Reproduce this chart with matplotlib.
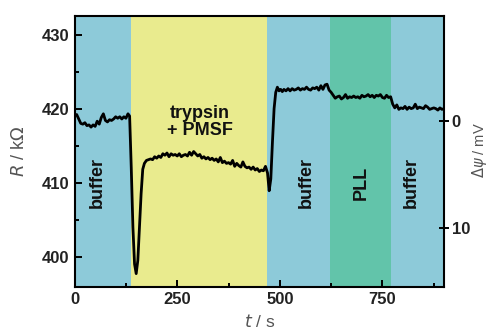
import matplotlib
matplotlib.use("Agg")
import matplotlib.pyplot as plt
from matplotlib.ticker import MultipleLocator

plt.rcParams['font.family'] = ['Liberation Sans', 'DejaVu Sans']

# Phases (start, end, label, colour)
phase_bounds = [0, 137, 468, 623, 772, 900]
phase_labels = ["buffer", "trypsin\n+ PMSF", "buffer", "PLL", "buffer"]
phase_colors = ["#8dcad9", "#e9eb8e", "#8dcad9", "#62c4aa", "#8dcad9"]

t = [0, 5, 10, 15, 20, 25, 30, 35, 40, 45, 50, 55, 60, 65, 70, 75, 80, 85, 90, 95,
     100, 105, 110, 115, 120, 125, 130, 134,
     138, 142, 146, 150, 154, 158, 162, 166, 170, 175,
     180, 185, 190, 195, 200, 205, 210, 215, 220, 225, 230, 235, 240, 245, 250, 255,
     260, 265, 270, 275, 280, 285, 290, 295, 300, 305, 310, 315, 320, 325, 330, 335,
     340, 345, 350, 355, 360, 365, 370, 375, 380, 385, 390, 395, 400, 405, 410, 415,
     420, 425, 430, 435, 440, 445, 450, 455, 460, 465, 470, 474, 478, 482, 486, 490,
     494, 498, 502, 506, 510, 515, 520, 525, 530, 535, 540, 545, 550, 555, 560, 565,
     570, 575, 580, 585, 590, 595, 600, 605, 610, 615, 620, 625, 630, 635, 640, 645,
     650, 655, 660, 665, 670, 675, 680, 685, 690, 695, 700, 705, 710, 715, 720, 725,
     730, 735, 740, 745, 750, 755, 760, 765, 770, 775, 780, 785, 790, 795, 800, 805,
     810, 815, 820, 825, 830, 835, 840, 845, 850, 855, 860, 865, 870, 875, 880, 885,
     890, 895, 900]
R = [419.0, 419.2, 418.6, 418.0, 417.9, 418.1, 417.7, 417.8, 417.5, 417.8, 417.6, 418.3,
     417.9, 418.8, 419.3, 418.4, 418.2, 418.5, 418.4, 418.6,
     418.9, 418.7, 418.9, 418.6, 418.9, 418.7, 419.3, 419.0,
     412.0, 404.0, 399.0, 397.7, 399.5, 404.0, 408.5, 411.8, 412.6, 413.0,
     413.1, 413.2, 413.1, 413.5, 413.3, 413.6, 413.4, 413.9, 413.7, 414.0, 413.5, 413.9,
     413.7, 413.8, 413.6, 413.9,
     413.5, 413.7, 413.8, 413.6, 414.1, 413.7, 414.2, 413.9, 413.6, 413.8, 413.3, 413.5,
     413.2, 413.4, 413.1, 413.3,
     413.0, 413.2, 412.8, 413.4, 412.7, 412.9, 412.6, 412.7, 412.5, 413.0, 412.2, 412.6,
     412.3, 412.1, 412.8, 412.2,
     412.0, 412.1, 411.8, 412.1, 411.7, 411.9, 411.5, 411.7, 411.6, 412.2, 411.3, 408.9,
     410.5, 415.5, 420.0, 422.2,
     422.9, 422.4, 422.6, 422.3, 422.6, 422.4, 422.7, 422.4, 422.7, 422.5, 422.6, 422.8,
     422.5, 422.7, 422.6, 422.9,
     422.6, 422.5, 422.8, 422.7, 422.9, 422.5, 423.1, 422.6, 423.2, 423.3, 422.5, 422.2,
     421.8, 421.4, 421.6, 421.7,
     421.3, 421.5, 421.9, 421.4, 421.6, 421.5, 421.7, 421.5, 421.6, 421.4, 421.8, 421.6,
     421.7, 421.9, 421.6, 421.8,
     421.5, 421.8, 421.7, 421.9, 421.5, 421.4, 421.8, 421.5, 421.6, 420.6, 420.1, 420.5,
     419.9, 420.1, 420.0, 420.3,
     419.9, 420.2, 420.0, 420.1, 420.6, 420.0, 420.2, 420.1, 420.0, 420.4, 420.2, 419.9,
     420.0, 420.1, 420.0, 419.8,
     420.1, 419.9, 420.0]

x_ticks = [0, 250, 500, 750]
y_ticks = [400, 410, 420, 430]
psi_ticks = [0, 10]

label_t = [55, 305, 565, 699, 820]
label_y = [410, 418.2, 410, 410, 410]

fig = plt.figure(figsize=(4.89, 3.36), dpi=100)
ax = fig.add_axes([0.1526, 0.146, 0.9080 - 0.1526, 0.952 - 0.146])

for i in range(len(phase_labels)):
    ax.axvspan(phase_bounds[i], phase_bounds[i + 1], color=phase_colors[i], lw=0, zorder=0)

ax.plot(t, R, color="black", lw=2.0, zorder=3)

for i, lab in enumerate(phase_labels):
    rot = 0 if "\n" in lab else 90
    ax.text(label_t[i], label_y[i], lab, rotation=rot, ha="center", va="center",
            fontsize=13, fontweight="bold", color="#111111", linespacing=1.0, zorder=4)

ax.set_xlim(0, 900)
ax.set_ylim(395.9, 432.5)
ax.set_xticks(x_ticks)
ax.set_yticks(y_ticks)
ax.xaxis.set_minor_locator(MultipleLocator(125))
ax.yaxis.set_minor_locator(MultipleLocator(5))
ax.tick_params(which="both", direction="in", top=False, right=False, width=1.4,
               labelsize=12, colors="black")
ax.tick_params(which="major", length=5, pad=4)
ax.tick_params(which="minor", length=3)
for lab in ax.get_xticklabels() + ax.get_yticklabels():
    lab.set_fontweight("bold")
    lab.set_color("#222222")
for sp in ax.spines.values():
    sp.set_linewidth(1.5)

ax.set_xlabel(r"$t$ / s", fontsize=12.5, color="#555555", labelpad=4)
ax.set_ylabel(r"$R$ / k$\Omega$", fontsize=13, color="#555555")
ax.yaxis.set_label_coords(-0.125, 0.5)

ax2 = ax.twinx()
ax2.set_ylim(15.56, -9.84)
ax2.set_yticks(psi_ticks)
ax2.tick_params(direction="inout", length=7, width=1.4, labelsize=12, pad=2)
for lab in ax2.get_yticklabels():
    lab.set_fontweight("bold")
    lab.set_color("#222222")
for sp in ax2.spines.values():
    sp.set_visible(False)

fig.text(480 / 489, 1 - 150 / 336, r"$\Delta\psi$ / mV", rotation=90,
         ha="center", va="center", fontsize=10.5, color="#555555")

fig.savefig("out.png", dpi=100)
